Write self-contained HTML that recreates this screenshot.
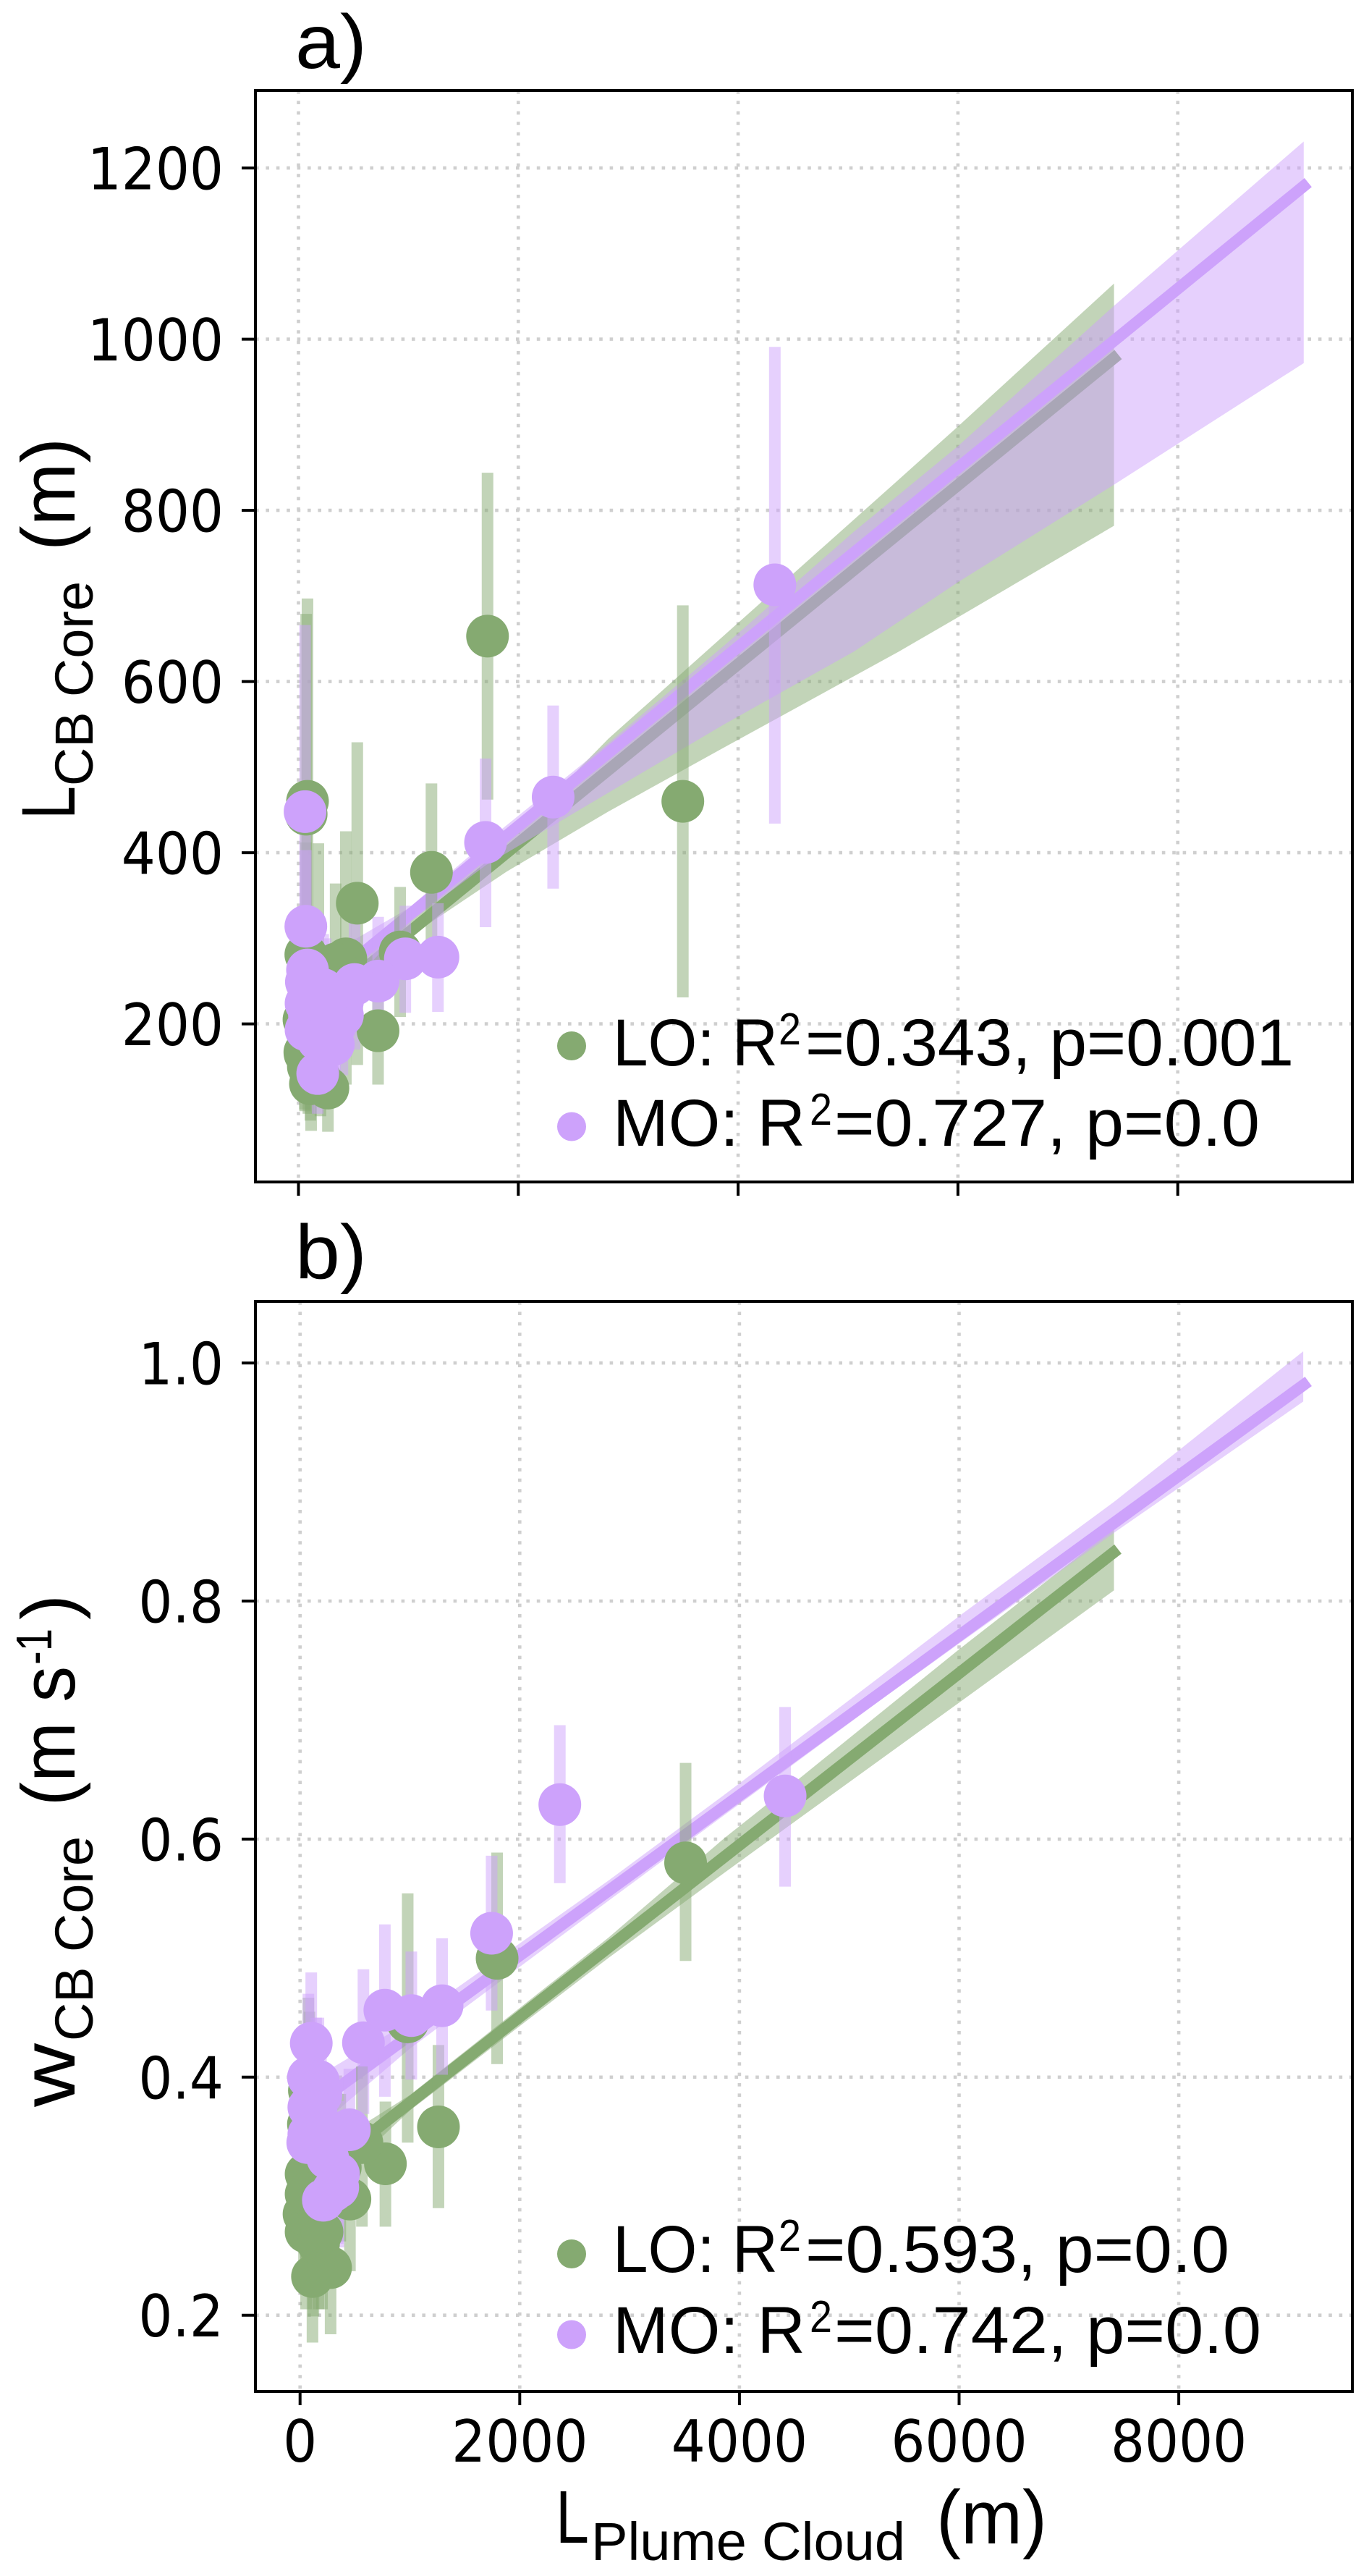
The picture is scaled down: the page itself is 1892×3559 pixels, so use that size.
<!DOCTYPE html>
<html lang="en">
<head>
<meta charset="utf-8">
<title>Plume cloud length vs cloud base core properties</title>
<style>
html,body{margin:0;padding:0;background:#fff;}
svg{display:block;}
text{font-family:"Liberation Sans",sans-serif;fill:#000;}
.tick{font-family:"DejaVu Sans",sans-serif;font-size:74px;}
</style>
</head>
<body>
<svg id="chart" xmlns="http://www.w3.org/2000/svg" width="1892" height="3559" viewBox="0 0 1892 3559">
  <g id="layer-a"></g>
  <g id="layer-b"></g>

  <text x="408" y="94" font-size="106" textLength="99" lengthAdjust="spacingAndGlyphs">a)</text>
  <text x="408" y="1766" font-size="106" textLength="99" lengthAdjust="spacingAndGlyphs">b)</text>

  <g>
    <text transform="translate(103,1132) rotate(-90)" font-size="105" textLength="46" lengthAdjust="spacingAndGlyphs">L</text>
    <text transform="translate(128,1086) rotate(-90)" font-size="74" textLength="283" lengthAdjust="spacingAndGlyphs">CB Core</text>
    <text transform="translate(103,761) rotate(-90)" font-size="105" textLength="156" lengthAdjust="spacingAndGlyphs">(m)</text>
  </g>

  <g>
    <text transform="translate(103,2911) rotate(-90)" font-size="105" textLength="88" lengthAdjust="spacingAndGlyphs">w</text>
    <text transform="translate(128,2820) rotate(-90)" font-size="74" textLength="283" lengthAdjust="spacingAndGlyphs">CB Core</text>
    <text transform="translate(103,2495) rotate(-90)" font-size="105" textLength="193" lengthAdjust="spacingAndGlyphs">(m s</text>
    <text transform="translate(71,2300) rotate(-90)" font-size="70" textLength="50" lengthAdjust="spacingAndGlyphs">-1</text>
    <text transform="translate(103,2238) rotate(-90)" font-size="105">)</text>
  </g>

  <g>
    <text x="768" y="3513" font-size="103" textLength="46" lengthAdjust="spacingAndGlyphs">L</text>
    <text x="817" y="3537" font-size="74" textLength="434" lengthAdjust="spacingAndGlyphs">Plume Cloud</text>
    <text x="1294" y="3514" font-size="105" textLength="153" lengthAdjust="spacingAndGlyphs">(m)</text>
  </g>

  <g>
    <circle cx="790" cy="1445" r="20" fill="#85aa71"></circle>
    <text x="847" y="1472" font-size="92" textLength="228" lengthAdjust="spacingAndGlyphs">LO: R</text>
    <text x="1076" y="1443" font-size="62" textLength="31" lengthAdjust="spacingAndGlyphs">2</text>
    <text x="1113" y="1472" font-size="92" textLength="675" lengthAdjust="spacingAndGlyphs">=0.343, p=0.001</text>
    <circle cx="790" cy="1556.5" r="20" fill="#cda2fb"></circle>
    <text x="847" y="1583" font-size="92" textLength="266" lengthAdjust="spacingAndGlyphs">MO: R</text>
    <text x="1119" y="1554" font-size="62" textLength="31" lengthAdjust="spacingAndGlyphs">2</text>
    <text x="1153" y="1583" font-size="92" textLength="588" lengthAdjust="spacingAndGlyphs">=0.727, p=0.0</text>
  </g>

  <g>
    <circle cx="790" cy="3114" r="20" fill="#85aa71"></circle>
    <text x="847" y="3139" font-size="92" textLength="228" lengthAdjust="spacingAndGlyphs">LO: R</text>
    <text x="1076" y="3110" font-size="62" textLength="31" lengthAdjust="spacingAndGlyphs">2</text>
    <text x="1113" y="3139" font-size="92" textLength="586" lengthAdjust="spacingAndGlyphs">=0.593, p=0.0</text>
    <circle cx="790" cy="3225.5" r="20" fill="#cda2fb"></circle>
    <text x="847" y="3251" font-size="92" textLength="266" lengthAdjust="spacingAndGlyphs">MO: R</text>
    <text x="1119" y="3222" font-size="62" textLength="31" lengthAdjust="spacingAndGlyphs">2</text>
    <text x="1153" y="3251" font-size="92" textLength="590" lengthAdjust="spacingAndGlyphs">=0.742, p=0.0</text>
  </g>
</svg>

<script>
// Tick values
var xTickValues = [0, 2000, 4000, 6000, 8000];
var aYTickValues = [200, 400, 600, 800, 1000, 1200];
var bYTickValues = [0.2, 0.4, 0.6, 0.8, 1.0];
var aYTickLabels = ['200', '400', '600', '800', '1000', '1200'];
var bYTickLabels = ['0.2', '0.4', '0.6', '0.8', '1.0'];
var xTickLabels = ['0', '2000', '4000', '6000', '8000'];

// Panel a, LO points
var aLoX = [535, 1210, 1720, 3497, 82, 70, 925, 431, 338, 724, 67, 181, 268, 115, 109, 58, 50, 90, 200, 60];
var aLoY = [341, 377, 653, 460, 460, 445, 284, 276, 270, 192, 281, 240, 125, 134, 130, 167, 205, 150, 135, 165];
var aLoLow = [152, 273, 462, 231, 223, 230, 208, 129, 176, 129, 150, 110, 74, 75, 87, 100, 120, 95, 92, 98];
var aLoHigh = [529, 481, 844, 689, 697, 679, 360, 425, 364, 255, 412, 411, 176, 205, 173, 240, 292, 205, 178, 232];

// Panel a, MO points
var aMoX = [60, 67, 2317, 1702, 4334, 1269, 972, 725, 510, 82, 72, 150, 69, 247, 400, 69, 317, 175, 100, 150, 225, 400, 225, 333, 181];
var aMoY = [448, 314, 465, 412, 713, 278, 276, 250, 246, 263, 249, 232, 224, 224, 210, 193, 176, 142, 210, 190, 240, 226, 206, 198, 181];
var aMoLow = [230, 225, 358, 313, 434, 214, 213, 173, 170, 190, 180, 170, 160, 150, 140, 130, 120, 95, 150, 130, 175, 165, 150, 145, 130];
var aMoHigh = [666, 403, 572, 510, 991, 341, 338, 325, 320, 330, 310, 295, 290, 300, 278, 260, 240, 187, 270, 250, 305, 290, 265, 255, 235];

// Panel a, fit lines and bands
var aLoLineX = [60, 7458];
var aLoLineY = [208, 982];
var aMoLineX = [60, 9186];
var aMoLineY = [228, 1183];
var aLoBandX = [60, 1058, 1895, 2818, 3873, 5462, 6000, 7420];
var aLoBandHigh = [250, 325, 412, 533, 654, 836, 898, 1065];
var aLoBandLow = [180, 306, 378, 448, 523, 635, 675, 782];
var aMoBandX = [60, 1000, 1700, 2818, 3873, 5053, 6000, 7420, 9146];
var aMoBandHigh = [265, 335, 412, 528, 642, 775, 875, 1039, 1231];
var aMoBandLow = [190, 318, 385, 470, 550, 635, 716, 830, 972];

// Panel b, LO points
var bLoX = [1794, 3510, 1260, 777, 980, 563, 454, 278, 113, 122, 55, 36, 55, 55, 366, 168, 85, 76, 240, 200];
var bLoY = [0.4998, 0.58, 0.3582, 0.3272, 0.4465, 0.345, 0.2976, 0.24, 0.2325, 0.2682, 0.27, 0.285, 0.3186, 0.3018, 0.324, 0.26, 0.3887, 0.3605, 0.31, 0.27];
var bLoLow = [0.411, 0.4976, 0.29, 0.2744, 0.345, 0.2744, 0.237, 0.184, 0.177, 0.199, 0.205, 0.225, 0.26, 0.24, 0.262, 0.205, 0.32, 0.255, 0.25, 0.205];
var bLoHigh = [0.5887, 0.664, 0.427, 0.3795, 0.5544, 0.409, 0.358, 0.296, 0.288, 0.335, 0.335, 0.345, 0.378, 0.36, 0.386, 0.315, 0.455, 0.4668, 0.37, 0.335];

// Panel b, MO points
var bMoX = [4416, 2365, 1744, 1293, 1013, 772, 577, 449, 102, 76, 146, 80, 190, 80, 189, 70, 350, 300, 212, 167, 252, 167, 145, 343];
var bMoY = [0.6363, 0.629, 0.5209, 0.46, 0.4517, 0.4563, 0.4289, 0.3558, 0.4285, 0.3997, 0.394, 0.3747, 0.385, 0.352, 0.341, 0.345, 0.3186, 0.3046, 0.2966, 0.355, 0.332, 0.3965, 0.371, 0.3074];
var bMoLow = [0.56, 0.563, 0.456, 0.402, 0.398, 0.3835, 0.369, 0.3046, 0.369, 0.33, 0.33, 0.31, 0.33, 0.3, 0.29, 0.29, 0.257, 0.255, 0.25, 0.305, 0.285, 0.34, 0.32, 0.26];
var bMoHigh = [0.711, 0.6957, 0.586, 0.5166, 0.5055, 0.5283, 0.4906, 0.407, 0.488, 0.47, 0.45, 0.44, 0.44, 0.405, 0.39, 0.4, 0.38, 0.355, 0.345, 0.405, 0.38, 0.45, 0.425, 0.355];

// Panel b, fit lines and bands
var bLoLineX = [60, 7446];
var bLoLineY = [0.3107, 0.8437];
var bMoLineX = [60, 9180];
var bMoLineY = [0.372, 0.9845];
var bLoBandX = [60, 1000, 2805, 3860, 4583, 6008, 7410];
var bLoBandHigh = [0.33, 0.385, 0.517, 0.6006, 0.6537, 0.76, 0.8608];
var bLoBandLow = [0.29, 0.372, 0.5, 0.5715, 0.62, 0.7152, 0.809];
var bMoBandX = [60, 1000, 2805, 3860, 5303, 6010, 7420, 9133];
var bMoBandHigh = [0.395, 0.447, 0.565, 0.637, 0.738, 0.788, 0.884, 1.0098];
var bMoBandLow = [0.35, 0.424, 0.548, 0.62, 0.718, 0.765, 0.858, 0.9676];

var NS = 'http://www.w3.org/2000/svg';
var GREEN = '#85aa71';
var PURPLE = '#cda2fb';

function make(tag, parent, props) {
  var el = document.createElementNS(NS, tag);
  for (var k in props) { el.setAttribute(k, props[k]); }
  parent.appendChild(el);
  return el;
}

function drawGrid(g, box, xs, ys, sx, sy) {
  xs.forEach(function (v) {
    var el = make('line', g, {x1: sx(v), x2: sx(v), y1: box.top, y2: box.bottom, stroke: '#cfcfcf', 'stroke-width': 4.6, 'stroke-dasharray': '4.6 9.8'});
    
    
  });
  ys.forEach(function (v) {
    var el = make('line', g, {x1: box.left, x2: box.right, y1: sy(v), y2: sy(v), stroke: '#cfcfcf', 'stroke-width': 4.6, 'stroke-dasharray': '4.6 9.8'});
    
    
  });
}

function drawBand(g, xs, lo, hi, color, sx, sy) {
  var pts = [];
  xs.forEach(function (v, i) { pts.push(sx(v) + ',' + sy(hi[i])); });
  for (var i = xs.length - 1; i >= 0; i--) { pts.push(sx(xs[i]) + ',' + sy(lo[i])); }
  var el = make('polygon', g, {points: pts.join(' '), fill: color, 'fill-opacity': 0.5});
  
  
}

function drawLine(g, xs, ys, color, sx, sy) {
  var el = make('line', g, {x1: sx(xs[0]), y1: sy(ys[0]), x2: sx(xs[1]), y2: sy(ys[1]), stroke: color, 'stroke-width': 16});
  
  
}

function drawBars(g, xs, lo, hi, color, sx, sy) {
  xs.forEach(function (v, i) {
    var el = make('line', g, {x1: sx(v), x2: sx(v), y1: sy(lo[i]), y2: sy(hi[i]), stroke: color, 'stroke-opacity': 0.5, 'stroke-width': 16});
    
    
  });
}

function drawPoints(g, xs, ys, color, sx, sy) {
  xs.forEach(function (v, i) {
    var el = make('circle', g, {cx: sx(v), cy: sy(ys[i]), r: 29.5, fill: color});
    
    
  });
}

function drawAxes(g, box, xs, ys, yLabels, sx, sy, showXLabels) {
  var frame = make('rect', g, {x: box.left, y: box.top, width: box.right - box.left, height: box.bottom - box.top, fill: 'none', stroke: '#000', 'stroke-width': 4});
  
  
  xs.forEach(function (v, i) {
    var t = make('line', g, {x1: sx(v), x2: sx(v), y1: box.bottom, y2: box.bottom + 19, stroke: '#000', 'stroke-width': 4});
    
    
    if (showXLabels) {
      var lab = make('text', g, {'class': 'tick', 'text-anchor': 'middle', transform: 'translate(' + sx(v) + ',' + (box.bottom + 97) + ') scale(1,1.08)'});
      lab.textContent = xTickLabels[i];
      
      
    }
  });
  ys.forEach(function (v, i) {
    var t = make('line', g, {x1: box.left - 19, x2: box.left, y1: sy(v), y2: sy(v), stroke: '#000', 'stroke-width': 4});
    
    
    var lab = make('text', g, {'class': 'tick', 'text-anchor': 'end', transform: 'translate(309,' + (sy(v) + 29.5) + ') scale(1,1.08)'});
    lab.textContent = yLabels[i];
    
    
  });
}

// Panel a
var boxA = {left: 353, right: 1869, top: 125, bottom: 1633};
function xA(v) { return 412.5 + v * 0.1519; }
function yA(v) { return 1414.6 - (v - 200) * 1.1825; }
var gA = document.getElementById('layer-a');
drawGrid(gA, boxA, xTickValues, aYTickValues, xA, yA);
drawBand(gA, aLoBandX, aLoBandLow, aLoBandHigh, GREEN, xA, yA);
drawLine(gA, aLoLineX, aLoLineY, GREEN, xA, yA);
drawBand(gA, aMoBandX, aMoBandLow, aMoBandHigh, PURPLE, xA, yA);
drawLine(gA, aMoLineX, aMoLineY, PURPLE, xA, yA);
drawBars(gA, aLoX, aLoLow, aLoHigh, GREEN, xA, yA);
drawBars(gA, aMoX, aMoLow, aMoHigh, PURPLE, xA, yA);
drawPoints(gA, aLoX, aLoY, GREEN, xA, yA);
drawPoints(gA, aMoX, aMoY, PURPLE, xA, yA);
drawAxes(gA, boxA, xTickValues, aYTickValues, aYTickLabels, xA, yA, false);

// Panel b
var boxB = {left: 353, right: 1869, top: 1798, bottom: 3304};
function xB(v) { return 414.7 + v * 0.1518; }
function yB(v) { return 3198.7 - (v - 0.2) * 1644.5; }
var gB = document.getElementById('layer-b');
drawGrid(gB, boxB, xTickValues, bYTickValues, xB, yB);
drawBand(gB, bLoBandX, bLoBandLow, bLoBandHigh, GREEN, xB, yB);
drawLine(gB, bLoLineX, bLoLineY, GREEN, xB, yB);
drawBand(gB, bMoBandX, bMoBandLow, bMoBandHigh, PURPLE, xB, yB);
drawLine(gB, bMoLineX, bMoLineY, PURPLE, xB, yB);
drawBars(gB, bLoX, bLoLow, bLoHigh, GREEN, xB, yB);
drawBars(gB, bMoX, bMoLow, bMoHigh, PURPLE, xB, yB);
drawPoints(gB, bLoX, bLoY, GREEN, xB, yB);
drawPoints(gB, bMoX, bMoY, PURPLE, xB, yB);
drawAxes(gB, boxB, xTickValues, bYTickValues, bYTickLabels, xB, yB, true);
</script>
</body>
</html>
